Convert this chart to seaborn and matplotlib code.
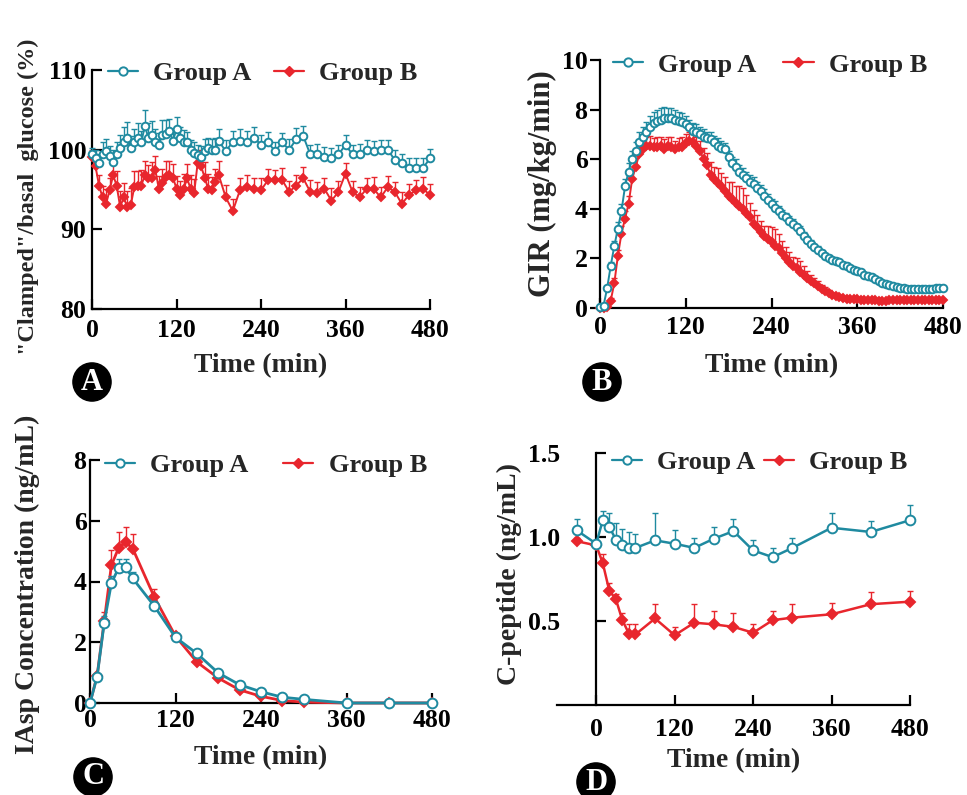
import numpy as np
import pandas as pd
import matplotlib
matplotlib.use("Agg")
import matplotlib.pyplot as plt
import seaborn as sns
from matplotlib.lines import Line2D

# ---------------- data ----------------
# Panel A: clamped/basal glucose (%)
t_glu = [0, 5, 10, 15, 20, 25, 30, 35, 40, 45, 50, 55, 60, 65, 70, 75, 80, 85, 90, 95,
         100, 105, 110, 115, 120, 125, 130, 135, 140, 145, 150, 155, 160, 165, 170, 175, 180,
         190, 200, 210, 220, 230, 240, 250, 260, 270, 280, 290, 300, 310, 320, 330, 340, 350,
         360, 370, 380, 390, 400, 410, 420, 430, 440, 450, 460, 470, 480]
glu_a = [99.4, 98.9, 98.3, 99.4, 99.8, 99.2, 98.5, 99.5, 100.2, 101.0, 101.5, 100.2, 101.0, 101.5,
         100.9, 103.0, 101.5, 101.9, 101.0, 100.6, 101.9, 102.0, 102.3, 101.1, 102.6, 101.5, 101.0,
         100.9, 100.0, 99.6, 99.3, 99.1, 99.8, 100.2, 100.0, 100.0, 101.1,
         99.8, 101.0, 101.1, 100.9, 101.5, 100.6, 100.9, 99.8, 100.9, 100.0, 101.3, 101.7, 99.4,
         99.4, 99.1, 98.9, 99.4, 100.6, 99.4, 99.4, 100.0, 99.8, 100.0, 100.0, 98.7, 98.3, 97.7,
         97.7, 97.7, 98.9]
glu_a_err = [0.8, 1.0, 1.2, 1.5, 1.5, 1.3, 1.4, 1.5, 1.6, 1.8, 2.0, 1.5, 1.6, 1.8, 1.5, 2.0, 1.8,
             1.7, 1.6, 1.5, 1.8, 1.7, 1.6, 1.5, 1.5, 1.4, 1.5, 1.3, 1.2, 1.3, 1.3, 1.4, 1.5, 1.3,
             1.4, 1.5, 1.5,
             1.4, 1.3, 1.5, 1.4, 1.3, 1.2, 1.3, 1.2, 1.2, 1.3, 1.4, 1.3, 1.2, 1.3, 1.2, 1.3, 1.2,
             1.2, 1.2, 1.3, 1.2, 1.3, 1.2, 1.2, 1.3, 1.2, 1.3, 1.2, 1.3, 1.2]
glu_b = [99.1, 97.9, 95.5, 94.0, 93.2, 94.9, 96.8, 95.5, 92.8, 94.0, 92.8, 93.0, 95.3, 95.5, 95.5,
         96.8, 96.4, 96.5, 97.4, 95.1, 95.8, 96.6, 96.8, 96.5, 95.1, 94.3, 95.0, 96.4, 95.1, 94.5,
         98.3, 97.9, 96.5, 95.1, 94.9, 96.0, 96.8,
         94.0, 92.3, 94.9, 95.3, 95.1, 94.9, 96.2, 96.2, 96.2, 94.7, 95.5, 96.4, 94.7, 94.5, 95.1,
         93.6, 94.7, 97.0, 94.7, 94.0, 95.1, 95.1, 94.0, 95.3, 94.7, 93.2, 94.3, 94.9, 95.1, 94.3]
glu_b_err = [0.8, 1.0, 1.3, 1.5, 1.8, 1.5, 1.6, 1.8, 2.0, 1.8, 2.0, 2.2, 2.0, 1.8, 2.0, 1.8, 1.7,
             2.0, 1.8, 1.6, 1.8, 2.0, 1.8, 1.7, 1.6, 1.8, 2.0, 1.8, 1.7, 1.8, 1.6, 1.8, 1.9, 1.8,
             1.7, 1.6, 1.8,
             1.6, 1.5, 1.6, 1.5, 1.4, 1.5, 1.4, 1.3, 1.5, 1.4, 1.3, 1.4, 1.5, 1.4, 1.3, 1.6, 1.4,
             1.3, 1.4, 1.3, 1.4, 1.5, 1.3, 1.4, 1.3, 1.5, 1.4, 1.3, 1.5, 1.4]

# Panel B: GIR (mg/kg/min), every 5 min
t_gir = list(range(0, 481, 5))
gir_a = [0.05, 0.1, 0.8, 1.7, 2.5, 3.2, 3.9, 4.9, 5.5, 6.0, 6.35, 6.7, 6.9, 7.1, 7.3, 7.45, 7.55,
         7.6, 7.65, 7.65, 7.65, 7.6, 7.55, 7.5, 7.4, 7.3, 7.15, 7.1, 7.0, 6.9, 6.85, 6.8, 6.7, 6.55,
         6.45, 6.4, 6.1, 5.85, 5.7, 5.5, 5.35, 5.25, 5.1, 5.0, 4.85, 4.7, 4.5, 4.35, 4.2, 4.05, 3.9,
         3.75, 3.65, 3.5, 3.4, 3.25, 3.1, 2.9, 2.75, 2.6, 2.45, 2.35, 2.2, 2.1, 2.0, 1.95, 1.9, 1.85,
         1.75, 1.7, 1.6, 1.55, 1.5, 1.45, 1.35, 1.3, 1.25, 1.15, 1.1, 1.0, 0.97, 0.92, 0.88, 0.85,
         0.82, 0.8, 0.78, 0.78, 0.78, 0.78, 0.77, 0.78, 0.78, 0.78, 0.8, 0.8, 0.8]
gir_a_err = [0.05, 0.05, 0.1, 0.15, 0.2,
             0.25, 0.3, 0.3, 0.35, 0.35, 0.35, 0.4,
             0.4, 0.4, 0.45, 0.45, 0.45, 0.45, 0.45, 0.4,
             0.4, 0.4, 0.35, 0.35, 0.35, 0.3, 0.3, 0.3,
             0.3, 0.3, 0.25, 0.3, 0.25, 0.3, 0.3, 0.25,
             0.25, 0.25, 0.3, 0.25, 0.3, 0.25, 0.25, 0.3,
             0.25, 0.25, 0.3, 0.25, 0.2, 0.25, 0.2, 0.2,
             0.2, 0.2, 0.2, 0.15, 0.2, 0.15, 0.15, 0.15,
             0.15, 0.15, 0.12, 0.12, 0.12, 0.1, 0.1, 0.1,
             0.1, 0.1, 0.1, 0.1, 0.08, 0.08, 0.08, 0.08,
             0.08, 0.08, 0.07, 0.07, 0.07, 0.07, 0.06, 0.06,
             0.06, 0.06, 0.06, 0.05, 0.05, 0.05, 0.05, 0.05,
             0.05, 0.05, 0.05, 0.05, 0.05]
gir_b = [0.0, 0.0, 0.05, 0.3, 1.0, 2.1, 3.0, 3.6, 4.2, 5.2, 5.7, 6.2, 6.4, 6.55, 6.55, 6.5, 6.5,
         6.55, 6.4, 6.55, 6.5, 6.4, 6.5, 6.5, 6.65, 6.75, 6.7, 6.55, 6.35, 6.0, 5.75, 5.35, 5.2,
         5.05, 4.9, 4.7, 4.5, 4.4, 4.25, 4.1, 4.0, 3.85, 3.65, 3.4, 3.25, 3.05, 2.9, 2.8, 2.65, 2.5,
         2.4, 2.2, 2.0, 1.85, 1.7, 1.6, 1.45, 1.35, 1.2, 1.1, 1.0, 0.88, 0.78, 0.7, 0.6, 0.52, 0.47,
         0.43, 0.4, 0.38, 0.37, 0.35, 0.35, 0.33, 0.32, 0.32, 0.32, 0.32, 0.3, 0.3, 0.3, 0.32, 0.33,
         0.32, 0.33, 0.32, 0.33, 0.32, 0.32, 0.33, 0.32, 0.33, 0.32, 0.33, 0.32, 0.33, 0.33]
gir_b_err = [0.0, 0.0, 0.05, 0.1, 0.2,
             0.25, 0.3, 0.3, 0.3, 0.35, 0.35, 0.35,
             0.35, 0.35, 0.4, 0.35, 0.4, 0.35, 0.4, 0.35,
             0.4, 0.35, 0.35, 0.4, 0.35, 0.35, 0.3, 0.35,
             0.4, 0.45, 0.5, 0.55, 0.5, 0.6, 0.55, 0.6,
             0.6, 0.7, 0.65, 0.8, 0.85, 0.7, 0.6, 0.55,
             0.5, 0.45, 0.4, 0.5, 0.6, 0.7, 0.6, 0.5,
             0.45, 0.4, 0.35, 0.4, 0.45, 0.35, 0.3, 0.25,
             0.2, 0.2, 0.15, 0.15, 0.12, 0.1, 0.1, 0.08,
             0.08, 0.07, 0.06, 0.06, 0.05, 0.05, 0.05, 0.05,
             0.05, 0.05, 0.05, 0.05, 0.05, 0.05, 0.05, 0.05,
             0.05, 0.05, 0.05, 0.05, 0.05, 0.05, 0.05, 0.05,
             0.05, 0.05, 0.05, 0.05, 0.05]

# Panel C: IAsp concentration (ng/mL)
t_iasp = [0, 10, 20, 30, 40, 50, 60, 90, 120, 150, 180, 210, 240, 270, 300, 360, 420, 480]
iasp_a = [0, 0.87, 2.65, 3.94, 4.44, 4.48, 4.1, 3.2, 2.16, 1.63, 0.99, 0.6, 0.37, 0.19, 0.12, 0.0, 0.0, 0.0]
iasp_a_err = [0, 0.05, 0.2, 0.25, 0.3, 0.27, 0.2, 0.15, 0.1, 0.08, 0.06, 0.05, 0.04, 0.03, 0.02, 0, 0, 0]
iasp_b = [0, 0.9, 2.7, 4.53, 5.1, 5.3, 5.08, 3.5, 2.2, 1.35, 0.82, 0.43, 0.22, 0.08, 0.03, 0.0, 0.0, 0.0]
iasp_b_err = [0, 0.05, 0.3, 0.5, 0.54, 0.5, 0.47, 0.25, 0.12, 0.1, 0.06, 0.05, 0.03, 0.02, 0.01, 0.02, 0.0, 0.02]

# Panel D: C-peptide (ng/mL)
t_cpep = [-30, 0, 10, 20, 30, 40, 50, 60, 90, 120, 150, 180, 210, 240, 270, 300, 360, 420, 480]
cpep_a = [1.04, 0.96, 1.10, 1.06, 0.985, 0.955, 0.935, 0.935, 0.98, 0.96, 0.935, 0.99, 1.035,
          0.92, 0.88, 0.935, 1.055, 1.03, 1.10]
cpep_a_err = [0.065, 0.02, 0.055, 0.08, 0.1, 0.095, 0.095, 0.085, 0.16, 0.08, 0.06, 0.07, 0.075,
              0.06, 0.055, 0.06, 0.085, 0.065, 0.09]
cpep_b = [0.975, 0.95, 0.845, 0.68, 0.63, 0.505, 0.425, 0.42, 0.515, 0.415, 0.49, 0.48, 0.465,
          0.43, 0.505, 0.52, 0.54, 0.60, 0.615]
cpep_b_err = [0.02, 0.02, 0.055, 0.045, 0.03, 0.045, 0.055, 0.06, 0.085, 0.05, 0.11, 0.08, 0.085,
              0.05, 0.055, 0.08, 0.07, 0.07, 0.065]

groups = ["Group A", "Group B"]
time_ticks = [0, 120, 240, 360, 480]

# ---------------- style ----------------
sns.set_theme(style="ticks")
plt.rcParams["font.family"] = ["Liberation Serif", "DejaVu Serif"]
plt.rcParams["font.weight"] = "bold"
plt.rcParams["axes.labelweight"] = "bold"

TEAL = "#1f8aa0"
RED = "#e8262d"
TICK_FS = 18.5
LAB_FS = 20
LEG_FS = 19

W, H = 967, 795
fig = plt.figure(figsize=(W / 100, H / 100), dpi=100)


def add_axes(l, r, t, b):
    return fig.add_axes([l / W, 1 - b / H, (r - l) / W, (b - t) / H])


def draw(ax, t, ya, ea, yb, eb, ms_c, ms_d, lw):
    series = [(yb, eb, RED, "D", RED, ms_d, groups[1]),
              (ya, ea, TEAL, "o", "white", ms_c, groups[0])]
    for k, (y, e, col, mk, mfc, ms, name) in enumerate(series):
        ax.errorbar(t, y, yerr=[np.zeros(len(e)), e], fmt="none", ecolor=col,
                    elinewidth=1.0, capsize=2.5, capthick=1.0, zorder=2 + 2 * k, clip_on=False)
        df = pd.DataFrame({"t": t, "v": y})
        sns.lineplot(data=df, x="t", y="v", ax=ax, color=col, lw=lw, marker=mk,
                     markersize=ms, markerfacecolor=mfc, markeredgecolor=col,
                     markeredgewidth=1.4, clip_on=False, zorder=3 + 2 * k, errorbar=None)


def style(ax, xlim, ylim, yticks, xpad, ypad, ydir="in"):
    ax.set_xlim(*xlim)
    ax.set_ylim(*ylim)
    ax.set_xticks(time_ticks)
    ax.set_yticks(yticks)
    for s in ["top", "right"]:
        ax.spines[s].set_visible(False)
    for s in ["left", "bottom"]:
        ax.spines[s].set_linewidth(1.6)
        ax.spines[s].set_color("black")
    ax.tick_params(axis="x", direction="in", length=7, width=1.6, pad=xpad,
                   labelsize=TICK_FS, colors="black")
    ax.tick_params(axis="y", direction=ydir, length=7, width=1.6, pad=ypad,
                   labelsize=TICK_FS, colors="black")
    for lab in ax.get_xticklabels() + ax.get_yticklabels():
        lab.set_fontweight("bold")
    ax.set_facecolor("white")


def legend(ax, x, y, colsp):
    h = [Line2D([], [], color=TEAL, lw=1.6, marker="o", ms=6, mfc="white", mec=TEAL, mew=1.4),
         Line2D([], [], color=RED, lw=1.6, marker="D", ms=5, mfc=RED, mec=RED)]
    ax.legend(h, groups, loc="center left", bbox_to_anchor=(x, y), ncol=2, frameon=False,
              handlelength=1.15, handletextpad=0.57, columnspacing=colsp, borderaxespad=0,
              borderpad=0, prop={"size": LEG_FS, "weight": "bold"})


def labels(ax, xl, yl, xpos, ypos, yfs=LAB_FS):
    ax.set_xlabel(xl, fontsize=LAB_FS, fontweight="bold")
    ax.set_ylabel(yl, fontsize=yfs, fontweight="bold")
    ax.xaxis.set_label_coords(*xpos)
    ax.yaxis.set_label_coords(*ypos)


# Panel A
axA = add_axes(92, 430, 70, 309)
draw(axA, t_glu, glu_a, glu_a_err, glu_b, glu_b_err, 5.5, 4.5, 1.4)
style(axA, (0, 480), (80, 110), [80, 90, 100, 110], 7, 4)
legend(axA, 0.047, 0.987, 0.85)
labels(axA, "Time (min)", '"Clamped"/basal  glucose (%)', (0.5, -0.184), (-0.157, 0.47), yfs=17.5)

# Panel B
axB = add_axes(600, 943, 60, 308)
draw(axB, t_gir, gir_a, gir_a_err, gir_b, gir_b_err, 5.5, 4.5, 1.4)
style(axB, (0, 480), (0, 10), [0, 2, 4, 6, 8, 10], 6, 2, ydir="out")
legend(axB, 0.038, 0.98, 1.0)
labels(axB, "Time (min)", "GIR (mg/kg/min)", (0.5, -0.18), (-0.125, 0.5), yfs=22)

# Panel C
axC = add_axes(90, 432, 460, 703)
draw(axC, t_iasp, iasp_a, iasp_a_err, iasp_b, iasp_b_err, 7, 5.5, 2.0)
style(axC, (0, 480), (0, 8), [0, 2, 4, 6, 8], 4, 2.5)
legend(axC, 0.044, 0.979, 1.3)
labels(axC, "Time (min)", "IAsp Concentration (ng/mL)", (0.5, -0.173), (-0.146, 0.49))

# Panel D
axD = add_axes(557, 910, 453, 705)
draw(axD, t_cpep, cpep_a, cpep_a_err, cpep_b, cpep_b_err, 7, 5.5, 1.8)
style(axD, (-60, 480), (0, 1.5), [0.5, 1.0, 1.5], 9, 26)
axD.spines["left"].set_position(("data", 0))
axD.yaxis.set_major_formatter(matplotlib.ticker.FormatStrFormatter("%.1f"))
legend(axD, 0.156, 0.964, 0.3)
labels(axD, "Time (min)", "C-peptide (ng/mL)", (0.5, -0.17), (-0.1, 0.52))

# Panel letters
for letter, (px, py) in zip(["A", "B", "C", "D"], [(92, 382), (602, 382), (93, 777), (596, 782)]):
    fig.text(px / W, 1 - py / H, letter, ha="center", va="center", color="white",
             fontsize=22, fontweight="bold",
             bbox=dict(boxstyle="circle,pad=0.15", fc="black", ec="black"))

fig.savefig("out.png", dpi=100, facecolor="white")
